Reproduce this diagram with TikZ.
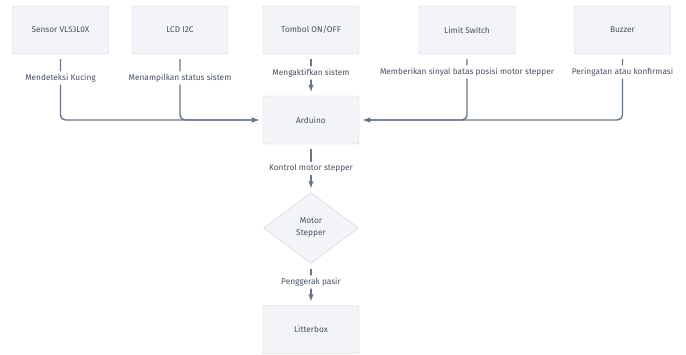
\documentclass[tikz,border=0pt]{standalone}
\usepackage{fontspec}
\setmainfont{Fira Sans}
\usetikzlibrary{shapes.geometric}
\definecolor{boxfill}{HTML}{F2F4F7}
\definecolor{boxline}{HTML}{CBD0D7}
\definecolor{txtgray}{HTML}{485262}
\definecolor{wire}{HTML}{687585}
\tikzset{
  >=latex,
}
\tikzstyle{every node}=[font=\fontsize{8.3}{12}\selectfont,text=txtgray]
\tikzstyle{block}=[draw=boxline,fill=boxfill,rounded corners=1.5pt,minimum width=96pt,minimum height=48pt]
\tikzstyle{decision}=[diamond,draw=boxline,fill=boxfill,minimum width=95pt,minimum height=71pt,inner sep=0pt,aspect=1.34,align=center]
\tikzstyle{flow}=[draw=wire,line width=1.4pt,->,rounded corners=5pt,shorten <=5pt,shorten >=4pt]
\tikzstyle{lbl}=[fill=white,inner sep=2.5pt]

\begin{document}
\begin{tikzpicture}[x=1pt,y=-1pt]
    \useasboundingbox (0,0) rectangle (686,354);
    % inputs
    \node[block] (sensor) at (60.5,30) {Sensor VL53L0X};
    \node[block] (lcd) at (180,30) {LCD I2C};
    \node[block] (tombol) at (311,30) {Tombol ON/OFF};
    \node[block] (limit) at (467,30) {Limit Switch};
    \node[block] (buzzer) at (622.5,30) {Buzzer};
    % main chain
    \node[block] (arduino) at (311,120) {Arduino};
    \node[decision] (motor) at (311,228) {Motor\\Stepper};
    \node[block] (litter) at (311,329.5) {Litterbox};
    % connections
    \draw[flow] (sensor.south) -- node[lbl,pos=.36]{Mendeteksi Kucing} (sensor.south |- arduino.west) -- (arduino.west);
    \draw[flow] (lcd.south) -- node[lbl,pos=.36]{Menampilkan status sistem} (lcd.south |- arduino.west) -- (arduino.west);
    \draw[flow] (tombol.south) -- node[lbl,pos=.45]{Mengaktifkan sistem} (arduino.north);
    \draw[flow] (limit.south) -- node[lbl,pos=.27]{Memberikan sinyal batas posisi motor stepper} (limit.south |- arduino.east) -- (arduino.east);
    \draw[flow] (buzzer.south) -- node[lbl,pos=.27]{Peringatan atau konfirmasi} (buzzer.south |- arduino.east) -- (arduino.east);
    \draw[flow] (arduino.south) -- node[lbl,pos=.5]{Kontrol motor stepper} (motor.north);
    \draw[flow] (motor.south) -- node[lbl,pos=.44]{Penggerak pasir} (litter.north);
\end{tikzpicture}
\end{document}
